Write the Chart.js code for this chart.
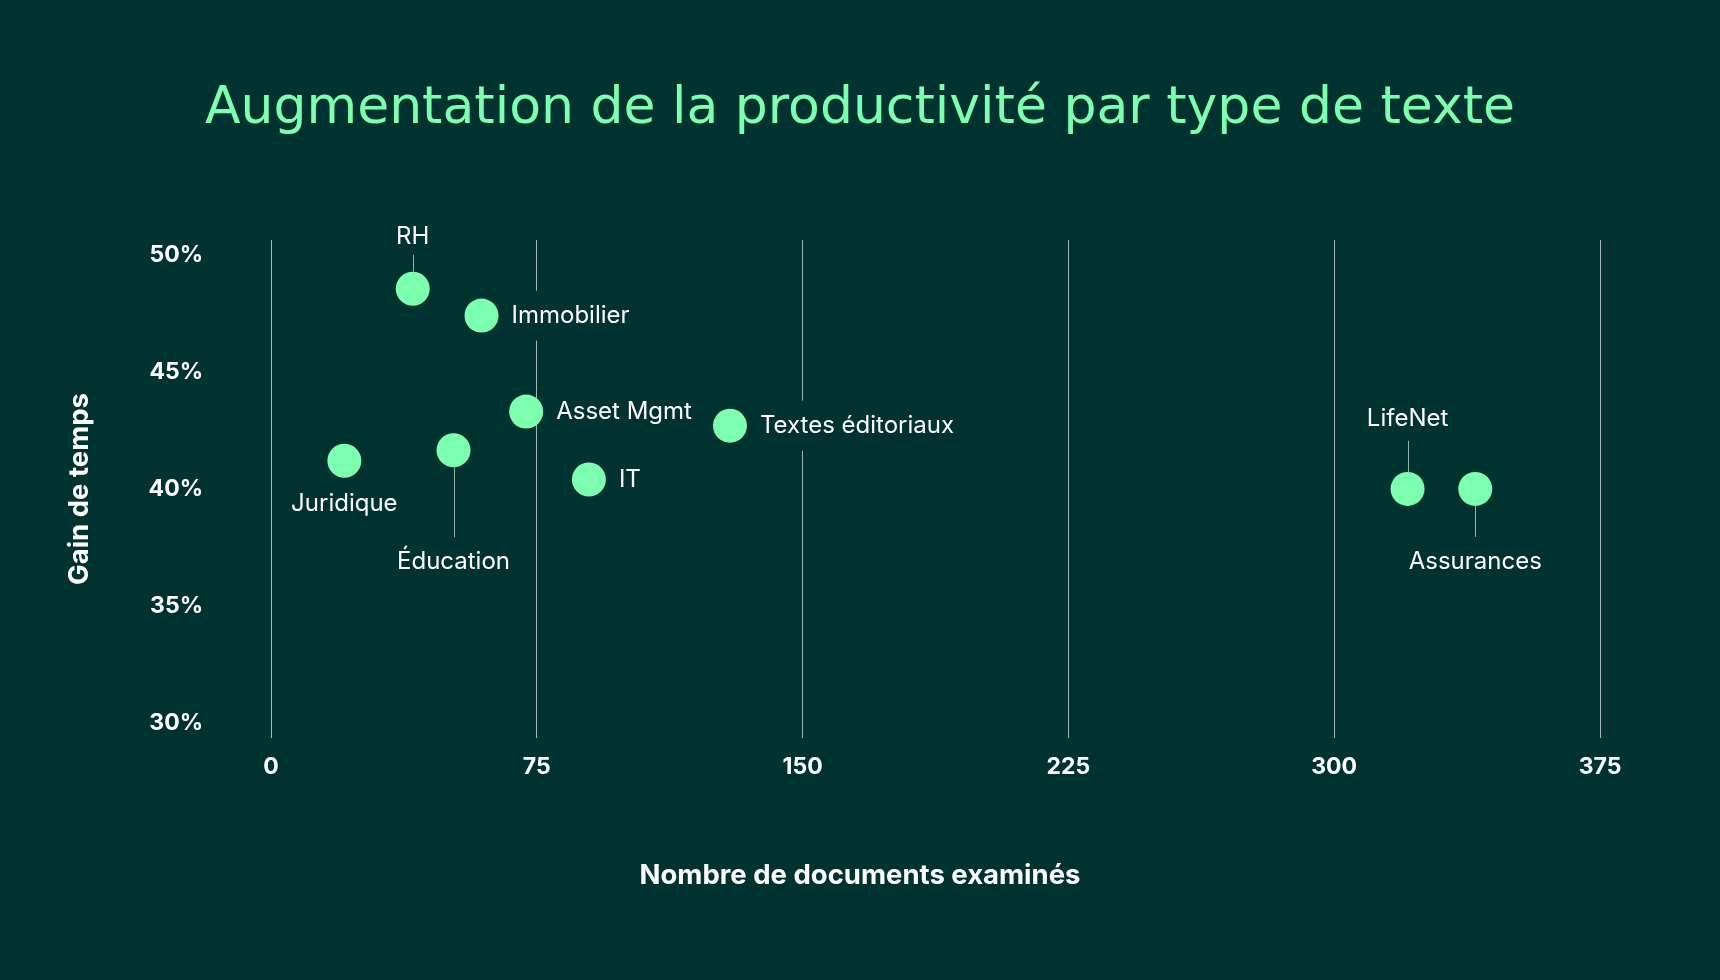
<!DOCTYPE html>
<html>
<head>
<meta charset="utf-8">
<script src="https://cdn.jsdelivr.net/npm/chart.js@4"></script>
<style>
  html, body { margin: 0; padding: 0; background: #00332f; }
  #wrap { width: 1720px; height: 980px; }
</style>
</head>
<body>
<div id="wrap"><canvas id="myChart"></canvas></div>
<script>
const categories = ['RH', 'Immobilier', 'Asset Mgmt', 'Textes éditoriaux', 'Juridique', 'Éducation', 'IT', 'LifeNet', 'Assurances'];
const documents = [40, 59.4, 72, 129.5, 20.7, 51.5, 89.7, 320.7, 339.8];
const timeGain = [48.55, 47.4, 43.3, 42.7, 41.2, 41.65, 40.4, 40.0, 40.0];
const xTicks = [0, 75, 150, 225, 300, 375];
const yTicks = [30, 35, 40, 45, 50];

const bgColor = '#00332f';
const green = '#7dffb0';

// where each label sits relative to its dot
const labelPlacement = {
  'RH': { side: 'top', lead: 17, gap: 18 },
  'Immobilier': { side: 'right' },
  'Asset Mgmt': { side: 'right' },
  'Textes éditoriaux': { side: 'right' },
  'Juridique': { side: 'bottom', lead: 0, gap: 26 },
  'Éducation': { side: 'bottom', lead: 70, gap: 25 },
  'IT': { side: 'right' },
  'LifeNet': { side: 'top', lead: 31, gap: 22 },
  'Assurances': { side: 'bottom', lead: 31, gap: 25 }
};

const labelFont = '24px Inter';

const pointLabels = {
  id: 'pointLabels',
  beforeDatasetsDraw(chart) {
    const ctx = chart.ctx;
    const meta = chart.getDatasetMeta(0);
    ctx.save();
    ctx.font = labelFont;
    const items = meta.data.map((pt, i) => {
      const name = categories[i];
      const place = labelPlacement[name];
      const r = pt.options.radius;
      const w = ctx.measureText(name).width;
      let tx = pt.x, ty = pt.y, align = 'center';
      if (place.side === 'right') {
        tx = pt.x + 30; align = 'left';
      } else if (place.side === 'top') {
        ty = pt.y - r - place.lead - place.gap;
      } else {
        ty = pt.y + r + place.lead + place.gap;
      }
      return { pt, r, name, place, w, tx, ty, align };
    });

    // boxes hide the grid behind the text
    ctx.fillStyle = bgColor;
    items.forEach(it => {
      const left = it.align === 'left' ? it.tx : it.tx - it.w / 2;
      ctx.fillRect(left - 12, it.ty - 25, it.w + 24, 50);
    });
    // lead lines
    ctx.strokeStyle = 'rgba(255,255,255,0.6)';
    ctx.lineWidth = 1;
    items.forEach(it => {
      if (!it.place.lead) return;
      const x = Math.round(it.pt.x) + 0.5;
      const dir = it.place.side === 'top' ? -1 : 1;
      ctx.beginPath();
      ctx.moveTo(x, it.pt.y + dir * it.r);
      ctx.lineTo(x, it.pt.y + dir * (it.r + it.place.lead));
      ctx.stroke();
    });
    ctx.fillStyle = '#ffffff';
    ctx.textBaseline = 'middle';
    items.forEach(it => {
      ctx.textAlign = it.align;
      ctx.fillText(it.name, it.tx, it.ty);
    });
    ctx.restore();
  }
};

const data = {
  datasets: [{
    label: 'Gain de temps',
    data: documents.map((d, i) => ({ x: d, y: timeGain[i] })),
    backgroundColor: green,
    borderWidth: 0,
    pointRadius: 17,
    pointHoverRadius: 17
  }]
};

const tickFont = { family: 'Inter', size: 23, weight: 'bold' };
const axisTitleFont = { family: 'Inter', size: 27.5, weight: 'bold' };

const config = {
  type: 'scatter',
  data,
  options: {
    responsive: true,
    maintainAspectRatio: false,
    animation: false,
    events: [],
    layout: { padding: 0 },
    plugins: {
      legend: { display: false },
      tooltip: { enabled: false },
      title: {
        display: true,
        text: 'Augmentation de la productivité par type de texte',
        color: green,
        font: { family: "'DejaVu Sans'", size: 52, weight: 'normal' },
        padding: { top: 78, bottom: 99.6 }
      },
      subtitle: {
        display: true,
        position: 'bottom',
        text: 'Nombre de documents examinés',
        color: '#ffffff',
        font: axisTitleFont,
        padding: { top: 0, bottom: 88 }
      }
    },
    scales: {
      x: {
        type: 'linear',
        min: 0,
        max: 375,
        afterBuildTicks: (scale) => { scale.ticks = xTicks.map(v => ({ value: v })); },
        afterFit: (scale) => { scale.height = 121; },
        grid: { color: 'rgba(255,255,255,0.65)', lineWidth: 1, drawTicks: false },
        border: { display: false },
        ticks: { color: '#ffffff', font: tickFont, padding: 15 }
      },
      y: {
        min: 29.36,
        max: 50.63,
        afterBuildTicks: (scale) => { scale.ticks = yTicks.map(v => ({ value: v })); },
        afterFit: (scale) => { scale.width = 271; },
        grid: { display: false, drawTicks: false },
        border: { display: false },
        ticks: {
          color: '#ffffff',
          font: tickFont,
          padding: 68,
          callback: (v) => v + '%'
        },
        title: {
          display: true,
          text: 'Gain de temps',
          color: '#ffffff',
          font: axisTitleFont,
          padding: { top: 63, bottom: 0 }
        }
      },
      // empty right-hand axis, only keeps space on the right
      yRight: {
        axis: 'y',
        position: 'right',
        afterFit: (scale) => { scale.width = 120; },
        grid: { display: false, drawTicks: false },
        border: { display: false },
        ticks: { display: false }
      }
    }
  },
  plugins: [pointLabels]
};

const myChart = new Chart(document.getElementById('myChart'), config);
</script>
</body>
</html>
